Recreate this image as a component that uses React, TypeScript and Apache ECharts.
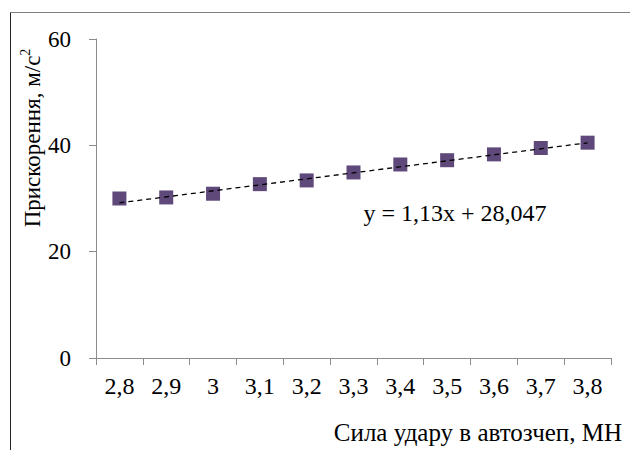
import React, { useEffect, useRef } from "react";
import * as echarts from "echarts";

const categories = ["2,8", "2,9", "3", "3,1", "3,2", "3,3", "3,4", "3,5", "3,6", "3,7", "3,8"];
const accelValues = [30.0, 30.2, 30.9, 32.7, 33.4, 34.9, 36.4, 37.2, 38.3, 39.5, 40.5];
const trendEndpoints = [29.18, 40.48];
const yTicks = [0, 20, 40, 60];
const equationText = "y = 1,13x + 28,047";
const yNameMain = "Прискорення, м/с";
const yNameSup = "2";
const xName = "Сила удару в автозчеп, МН";

const FONT = "'Liberation Serif', 'Times New Roman', serif";

export default function App() {
  const ref = useRef<HTMLDivElement>(null);
  useEffect(() => {
    if (!ref.current) return;
    const chart = echarts.init(ref.current, null, { renderer: "svg" });
    chart.setOption({
      animation: false,
      backgroundColor: "#ffffff",
      grid: { left: 96, right: 19, top: 39, bottom: 92 },
      xAxis: {
        type: "category",
        data: categories,
        boundaryGap: true,
        axisLine: { lineStyle: { color: "#8c8c8c", width: 1 } },
        axisTick: { show: true, length: 7, lineStyle: { color: "#8c8c8c" } },
        axisLabel: { color: "#000", fontFamily: FONT, fontSize: 24, margin: 16 },
        splitLine: { show: false },
      },
      yAxis: {
        type: "value",
        min: yTicks[0],
        max: yTicks[yTicks.length - 1],
        interval: 20,
        axisLine: { show: true, lineStyle: { color: "#8c8c8c", width: 1 } },
        axisTick: { show: true, length: 7, lineStyle: { color: "#8c8c8c" } },
        axisLabel: { color: "#000", fontFamily: FONT, fontSize: 23, margin: 25, align: "right" },
        splitLine: { show: false },
      },
      series: [
        {
          type: "scatter",
          data: accelValues,
          symbol: "rect",
          symbolSize: 14,
          itemStyle: { color: "#5F497A", opacity: 1 },
          z: 2,
          markLine: {
            silent: true,
            symbol: ["none", "none"],
            label: { show: false },
            lineStyle: { color: "#000", type: [5, 4], width: 1.3, opacity: 1 },
            z: 3,
            data: [
              [
                { coord: [categories[0], trendEndpoints[0]] },
                { coord: [categories[categories.length - 1], trendEndpoints[1]] },
              ],
            ],
          },
        },
      ],
      graphic: [
        {
          type: "rect",
          shape: { x: 10.5, y: 12.5, width: 640, height: 460 },
          style: { fill: "none", stroke: "#7f7f7f", lineWidth: 1 },
          silent: true,
        },
        {
          type: "line",
          shape: { x1: 10.5, y1: 12.5, x2: 10.5, y2: 450 },
          style: { stroke: "#222", lineWidth: 1 },
          silent: true,
        },
        {
          type: "text",
          x: 31,
          y: 138,
          rotation: Math.PI / 2,
          style: {
            text: `{m|${yNameMain}}{s|${yNameSup}}`,
            fill: "#000",
            align: "center",
            verticalAlign: "middle",
            rich: {
              m: { fontFamily: FONT, fontSize: 23, fill: "#000", lineHeight: 26, verticalAlign: "bottom" },
              s: { fontFamily: FONT, fontSize: 14, fill: "#000", lineHeight: 26, verticalAlign: "top", padding: [0, 0, 8, 0] },
            },
          },
        },
        {
          type: "text",
          x: 622,
          y: 432,
          style: {
            text: xName,
            font: `25px ${FONT}`,
            fill: "#000",
            align: "right",
            verticalAlign: "middle",
          },
        },
        {
          type: "text",
          x: 455,
          y: 213,
          style: {
            text: equationText,
            font: `24px ${FONT}`,
            fill: "#000",
            align: "center",
            verticalAlign: "middle",
          },
        },
      ],
    });
    return () => chart.dispose();
  }, []);
  return <div ref={ref} style={{ width: 630, height: 450, position: "absolute", left: 0, top: 0 }} />;
}
